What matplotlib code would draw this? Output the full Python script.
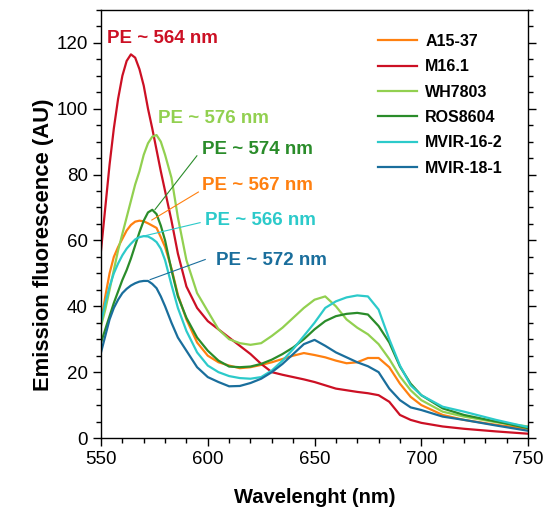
import matplotlib.pyplot as plt
from matplotlib.ticker import MultipleLocator

plt.rcParams['font.family'] = ['Liberation Sans', 'DejaVu Sans']

wl = [550, 552, 554, 556, 558, 560, 562, 564, 566, 568, 570, 572, 574, 576, 578,
      580, 583, 586, 590, 595, 600, 605, 610, 615, 620, 625, 630, 635, 640, 645,
      650, 655, 660, 665, 670, 675, 680, 685, 690, 695, 700, 710, 720, 735, 750]

a15_37 = [35, 43, 50, 55, 58, 60.5, 63, 64.7, 65.7, 66, 65.8, 65.2, 64.5, 63.8, 61,
          58, 51.5, 43.5, 36, 29, 25, 23, 22, 21.2, 21.5, 22.2, 23, 24, 25, 25.8,
          25.2, 24.5, 23.5, 22.7, 23, 24.3, 24.3, 21.5, 16.5, 12.5, 10, 7, 5.5, 4, 2.8]
m16_1 = [57, 70, 83, 94, 103, 110, 114.5, 116.5, 115.5, 112, 107, 100, 94, 87.5, 81,
         75, 66, 56, 46, 39.5, 35.5, 33, 30.5, 28, 25.5, 22.5, 20, 19.2, 18.5, 17.8,
         17, 16, 15, 14.5, 14, 13.6, 13, 11, 7, 5.5, 4.6, 3.5, 2.8, 2, 1.3]
wh7803 = [34, 39, 45, 51, 57, 62, 67, 72, 77, 81, 86, 89.5, 91.5, 92, 90,
          86, 79, 67, 54, 44, 38.5, 33, 30, 28.8, 28.3, 28.8, 31, 33.5, 36.5, 39.5,
          42, 43, 40, 36, 33.5, 31.5, 28.5, 24, 18.7, 14.5, 11.5, 8, 6.5, 4.8, 3.5]
ros8604 = [29, 33, 37, 41, 44.5, 48, 51, 54.5, 58.5, 62.5, 66, 68.5, 69.3, 68, 64.5,
           60, 51, 43, 36.5, 30.5, 26.5, 23.5, 21.7, 21.5, 21.7, 22.5, 23.8, 25.5, 27.5, 30,
           33, 35.5, 37, 37.7, 38, 37.5, 34, 29, 21.7, 16.5, 13, 9, 7, 5, 3]
mvir_16_2 = [35, 41, 46, 50, 53, 55.5, 57.5, 59, 60.3, 61, 61.3, 61.2, 60.5, 59.5, 57.5,
             54, 46.5, 39.5, 32.5, 26, 22, 20, 18.8, 18.2, 18, 18.5, 20.5, 23.5, 27, 31,
             35, 39.5, 41.5, 42.7, 43.3, 43, 39, 30, 22, 16, 13, 9.5, 8, 5.5, 3.3]
mvir_18_1 = [26, 31, 36, 39.5, 42, 44, 45.3, 46.3, 47, 47.5, 47.7, 47.7, 46.8, 45.5, 43,
             40, 35, 30.5, 26.5, 21.5, 18.5, 17, 15.7, 15.8, 16.7, 18, 20, 22.5, 25.5, 28.5,
             29.8, 28, 26, 24.5, 23, 21.8, 20, 15, 11.5, 9.3, 8.5, 6.5, 5.5, 3.8, 2.2]

names = ['A15-37', 'M16.1', 'WH7803', 'ROS8604', 'MVIR-16-2', 'MVIR-18-1']
series = [a15_37, m16_1, wh7803, ros8604, mvir_16_2, mvir_18_1]
colors = ['#FF8010', '#CC1024', '#92D050', '#2A8C2A', '#2CCACA', '#1A6E9C']

# peak labels: text, text position, pointer line (None = no line)
peak_text = ['PE ~ 567 nm', 'PE ~ 564 nm', 'PE ~ 576 nm', 'PE ~ 574 nm', 'PE ~ 566 nm', 'PE ~ 572 nm']
text_xy = [(597.5, 76.8), (552.8, 121.2), (576.7, 96.9), (597.3, 87.7), (598.5, 66.1), (604.0, 53.9)]
line_start = [(595.6, 74.7), None, None, (594.9, 85.7), (596.4, 65.4), (598.8, 54.2)]
line_end = [(573.8, 66.2), None, None, (575.3, 69.4), (569.8, 61.3), (573.0, 48.1)]

fig = plt.figure(figsize=(5.44, 5.17), dpi=100)
ax = fig.add_axes([0.1857, 0.1528, 0.785, 0.828])

for name, s, c in zip(names, series, colors):
    ax.plot(wl, s, color=c, lw=1.6, label=name)

for t, xy, p0, p1, c in zip(peak_text, text_xy, line_start, line_end, colors):
    ax.text(xy[0], xy[1], t, color=c, fontsize=13.5, fontweight='bold', va='center', ha='left')
    if p0 is not None:
        ax.plot([p0[0], p1[0]], [p0[1], p1[1]], color=c, lw=0.8)

ax.set_xlim(550, 750)
ax.set_ylim(0, 130)
ax.xaxis.set_major_locator(MultipleLocator(50))
ax.xaxis.set_minor_locator(MultipleLocator(10))
ax.yaxis.set_major_locator(MultipleLocator(20))
ax.yaxis.set_minor_locator(MultipleLocator(5))
ax.set_yticks([0, 20, 40, 60, 80, 100, 120])
ax.tick_params(which='both', direction='out', right=True, top=False, labelsize=13.5, width=1)
ax.tick_params(which='major', length=6)
ax.tick_params(which='minor', length=3.5)
for sp in ax.spines.values():
    sp.set_linewidth(1)

ax.set_xlabel('Wavelenght (nm)', fontsize=14.5, fontweight='bold')
ax.set_ylabel('Emission fluorescence (AU)', fontsize=15.8, fontweight='bold')
ax.xaxis.set_label_coords(0.5, -0.117)
ax.yaxis.set_label_coords(-0.110, 0.451)

leg = ax.legend(loc='upper left', bbox_to_anchor=(0.649, 0.944), frameon=False,
                prop={'weight': 'bold', 'size': 11.5}, handlelength=2.45,
                labelspacing=0.65, handletextpad=0.5, borderpad=0, borderaxespad=0)

fig.savefig('out.png', dpi=100)
